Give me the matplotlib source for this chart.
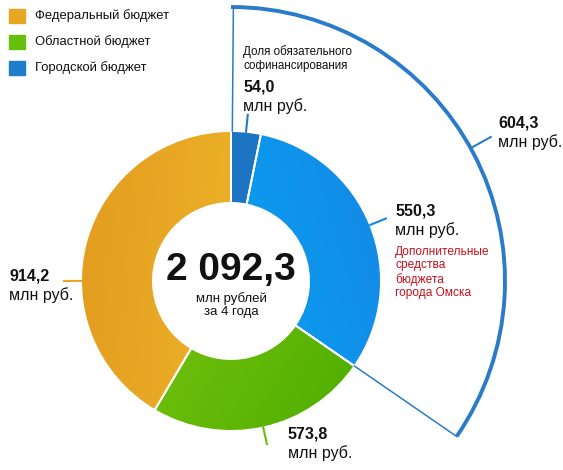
import numpy as np
import matplotlib.pyplot as plt
import matplotlib.patches as mpatches
from matplotlib.colors import LinearSegmentedColormap

plt.rcParams['font.family'] = ['Liberation Sans', 'DejaVu Sans']

# ─── Данные ───────────────────────────────────────────────────────────────────
legend_labels = ["Федеральный бюджет", "Областной бюджет", "Городской бюджет"]
legend_colors = ["#E9A623", "#66BF0A", "#1E7ECB"]

# сегменты по часовой стрелке от верха: софинансирование, доп. средства города,
# областной, федеральный
seg_values = [54.0, 550.3, 573.8, 914.2]
seg_labels = ["54,0", "550,3", "573,8", "914,2"]
# доли, как они нарисованы на исходной картинке (%)
seg_drawn_share = [3.2, 31.4, 23.9, 41.5]
city_total = "604,3"
grand_total = "2 092,3"

# градиенты сегментов: (цвет1, цвет2, направление)
seg_grad = [
    ("#2479C6", "#1C74C2", (0, 1)),
    ("#00B2F8", "#1488E6", (1, 0.3)),
    ("#8CCD14", "#4AAC00", (1, -0.6)),
    ("#F4C42E", "#E39C20", (-1, 0.1)),
]

W, H = 563, 470
CX, CY = 231, H - 281
R_OUT, R_IN = 150, 78
R_BIG = 274

fig = plt.figure(figsize=(W / 100, H / 100), dpi=100)
ax = fig.add_axes([0, 0, 1, 1])
ax.set_xlim(0, W)
ax.set_ylim(0, H)
ax.set_aspect("equal")
ax.axis("off")

wedges, _ = ax.pie(seg_drawn_share, radius=R_OUT, center=(CX, CY), startangle=90,
                   counterclock=False, colors=[g[0] for g in seg_grad],
                   wedgeprops=dict(width=R_OUT - R_IN, edgecolor="white", linewidth=1.4))
ax.set_xlim(0, W)
ax.set_ylim(0, H)

# градиентная заливка, обрезанная по клину
xx, yy = np.meshgrid(np.linspace(CX - R_OUT, CX + R_OUT, 300),
                     np.linspace(CY - R_OUT, CY + R_OUT, 300))
for w, (c1, c2, d) in zip(wedges, seg_grad):
    d = np.array(d) / np.hypot(*d)
    proj = (xx - CX) * d[0] + (yy - CY) * d[1]
    proj = (proj - proj.min()) / (proj.max() - proj.min())
    cmap = LinearSegmentedColormap.from_list("g", [c1, c2])
    im = ax.imshow(proj, cmap=cmap, origin="lower", zorder=2,
                   extent=(CX - R_OUT, CX + R_OUT, CY - R_OUT, CY + R_OUT))
    im.set_clip_path(w)
    w.set_facecolor("none")
    w.set_zorder(3)

# углы границ (по часовой от верха)
bounds = np.concatenate([[0], np.cumsum(seg_drawn_share)]) * 3.6
mids = (bounds[:-1] + bounds[1:]) / 2


def pt(angle_cw, r):
    a = np.radians(90 - angle_cw)
    return CX + r * np.cos(a), CY + r * np.sin(a)


# ─── Большая рамка «Городской бюджет» ────────────────────────────────────────
city_end = bounds[2]
blue = "#2A7BC9"
ax.add_patch(mpatches.Arc((CX, CY), 2 * R_BIG, 2 * R_BIG, theta1=90 - city_end, theta2=90,
                          color=blue, lw=2.8, zorder=4))
for ang in (0.5, city_end):
    p1, p2 = pt(ang, R_OUT), pt(ang, R_BIG)
    ax.plot([p1[0], p2[0]], [p1[1], p2[1]], color=blue, lw=1.1, zorder=4)

# ─── Выноски ─────────────────────────────────────────────────────────────────
lead_colors = ["#2479C6", "#1488E6", "#66BF0A", "#E9A623"]
lead_angles = [mids[0], mids[1], mids[2], 270]
for ang, col in zip(lead_angles, lead_colors):
    p1, p2 = pt(ang, R_OUT), pt(ang, R_OUT + 17)
    ax.plot([p1[0], p2[0]], [p1[1], p2[1]], color=col, lw=1.5, zorder=4)
p1, p2 = pt(61, R_BIG), pt(61, R_BIG + 23)
ax.plot([p1[0], p2[0]], [p1[1], p2[1]], color=blue, lw=1.5, zorder=4)

# ─── Тексты ──────────────────────────────────────────────────────────────────
def txt(x, y, s, **kw):
    kw.setdefault("fontsize", 11.5)
    kw.setdefault("color", "#111111")
    ax.text(x, H - y, s, va="center", ha="left", **kw)


def value_label(x, y, s):
    txt(x, y, s, fontweight="bold")
    txt(x, y + 19, "млн руб.")


value_label(243, 87, seg_labels[0])
value_label(395, 211, seg_labels[1])
value_label(288, 434, seg_labels[2])
value_label(9, 276, seg_labels[3])
value_label(498, 123, city_total)

txt(243, 58.5, "Доля обязательного\nсофинансирования", fontsize=8.4, linespacing=1.2)
txt(395, 272.5, "Дополнительные\nсредства\nбюджета\nгорода Омска", fontsize=8.6,
    color="#C8101E", linespacing=1.17)

ax.text(CX, H - 270, grand_total, ha="center", va="center", fontsize=28,
        fontweight="bold", color="#111111")
ax.text(CX, H - 305, "млн рублей\nза 4 года", ha="center", va="center",
        fontsize=9.5, color="#111111", linespacing=1.12)

# ─── Легенда ─────────────────────────────────────────────────────────────────
for i, (lab, col) in enumerate(zip(legend_labels, legend_colors)):
    y = 16 + 26 * i
    ax.add_patch(mpatches.Rectangle((9, H - y - 7), 16, 14, color=col))
    txt(35, y, lab, fontsize=9.4)

fig.savefig("out.png", dpi=100)
